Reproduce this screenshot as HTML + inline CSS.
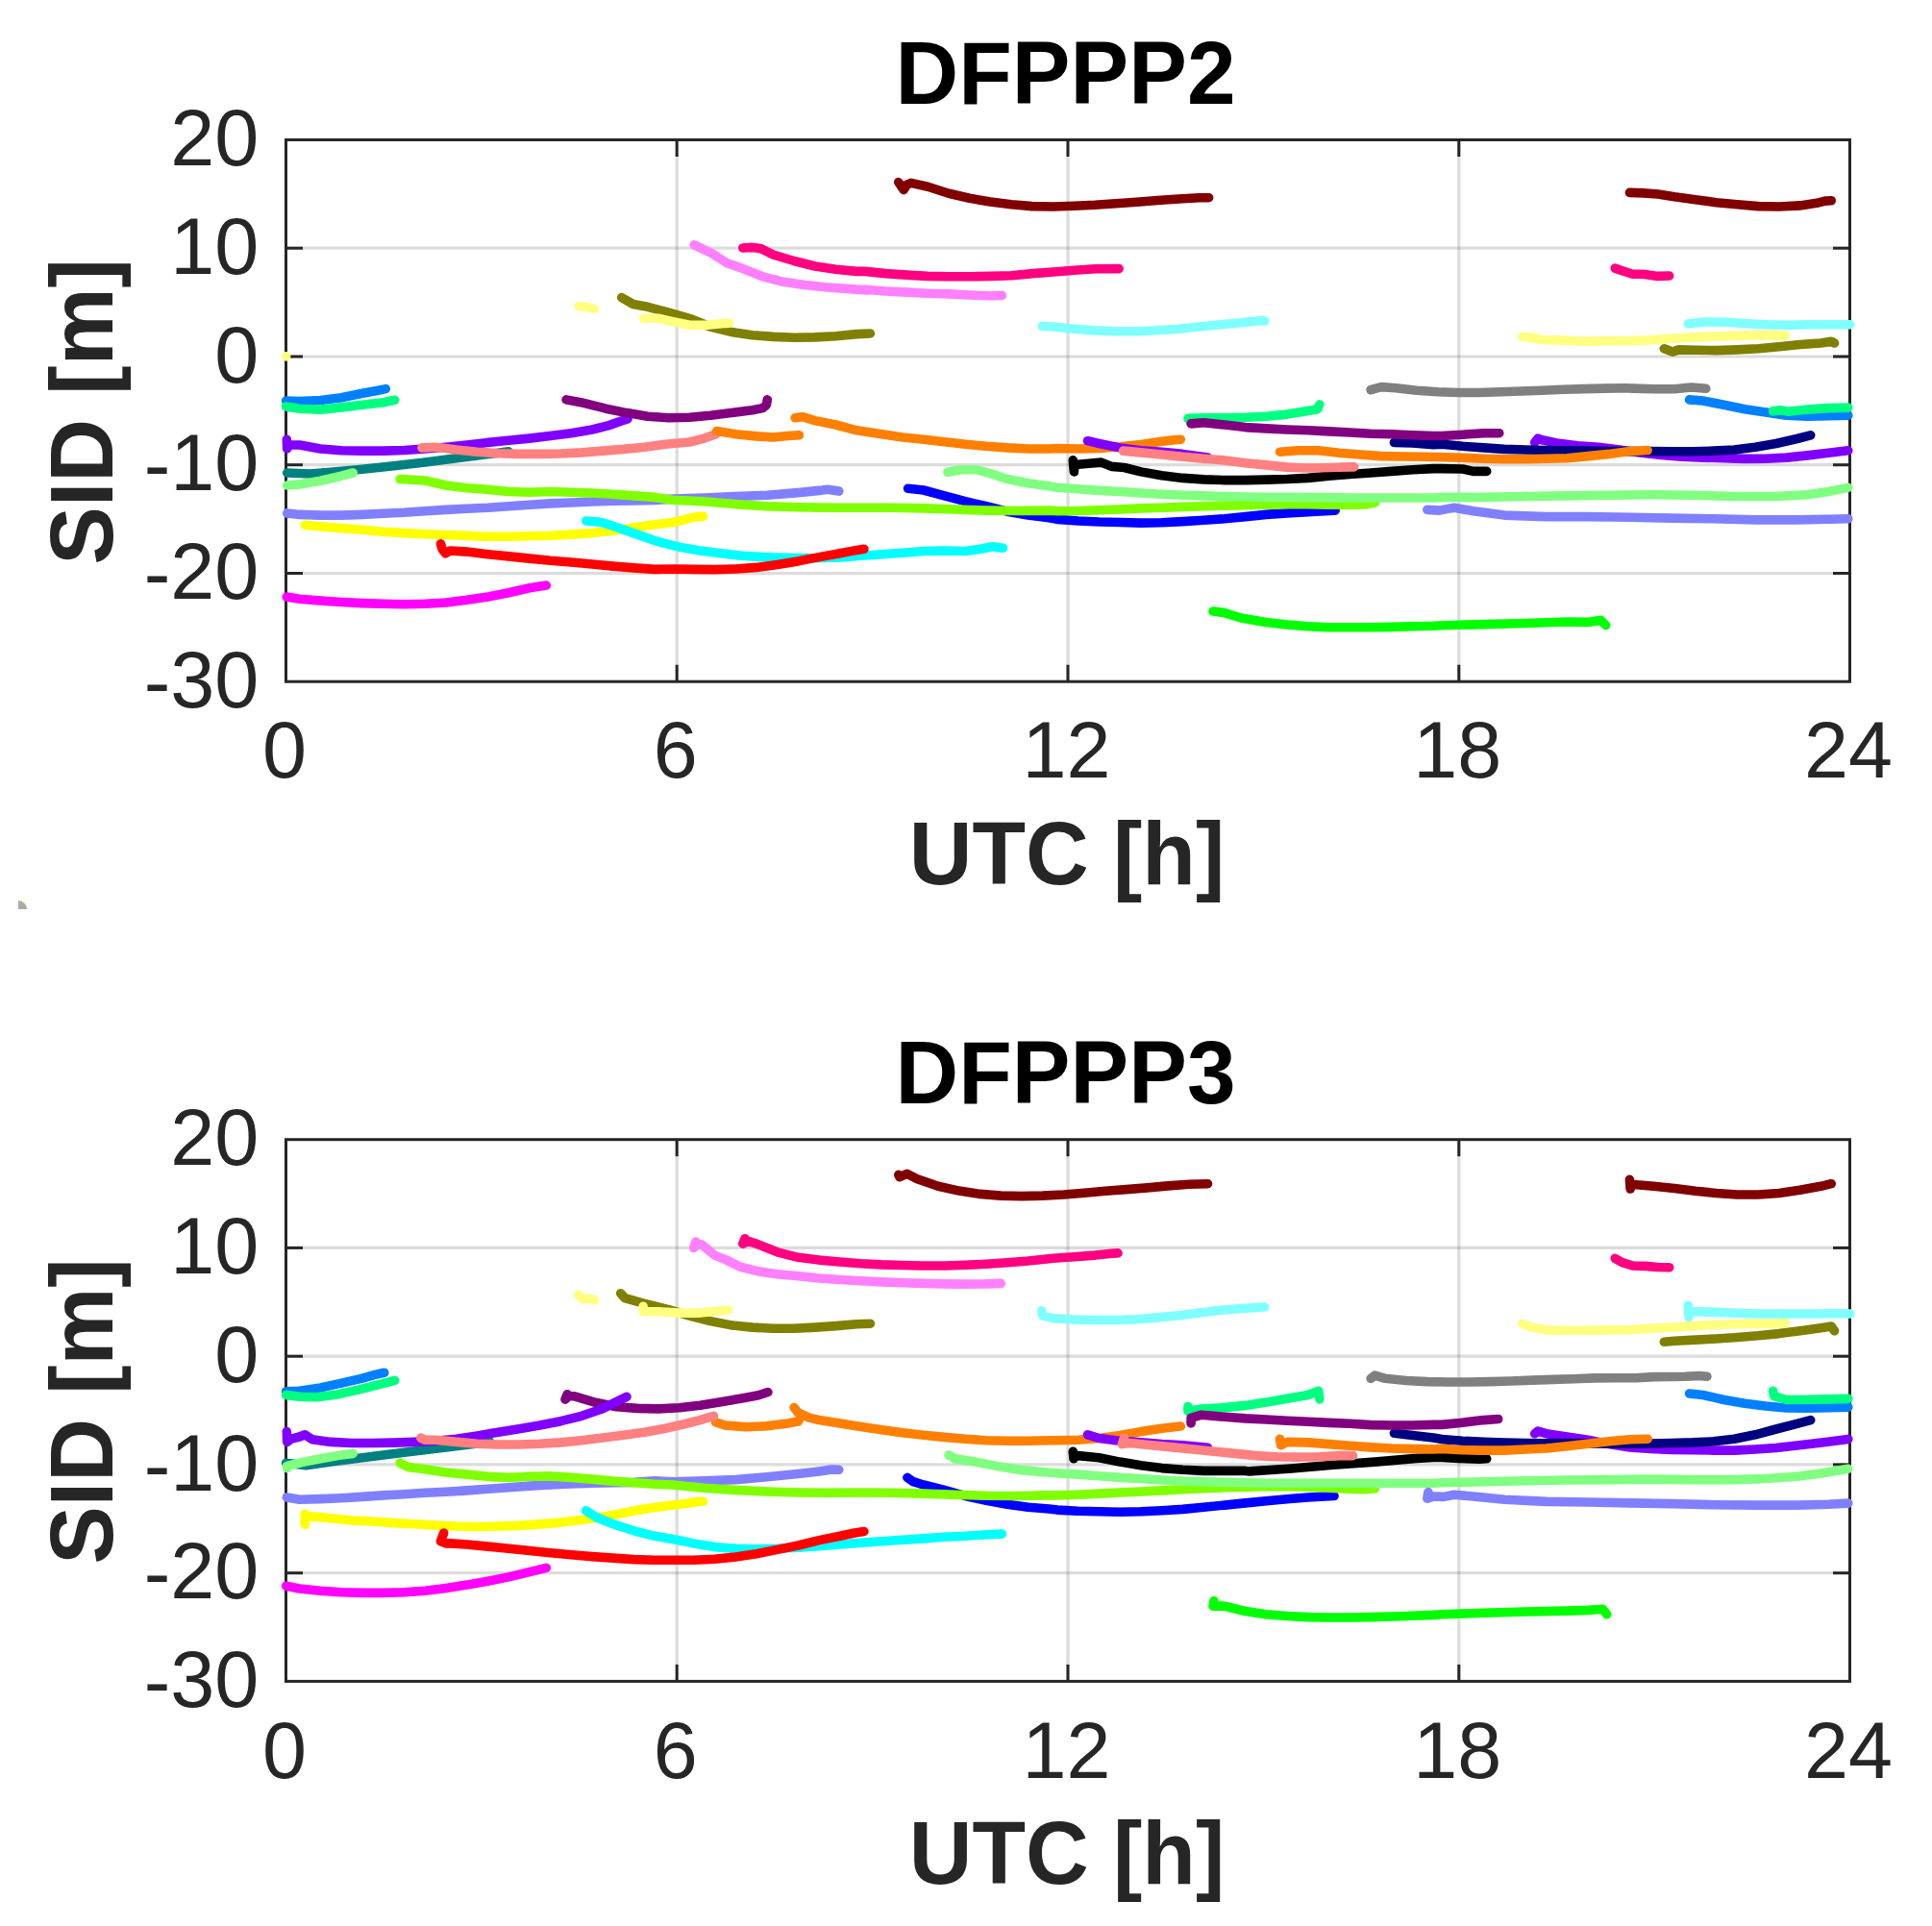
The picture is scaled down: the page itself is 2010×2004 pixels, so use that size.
<!DOCTYPE html>
<html><head><meta charset="utf-8"><title>DFPPP SID</title>
<style>html,body{margin:0;padding:0;background:#fff}svg{display:block}</style></head>
<body><svg width="2010" height="2004" viewBox="0 0 2010 2004">
<rect width="2010" height="2004" fill="#fff"/>
<path d="M19 946 L19 933 A13 13 0 0 1 32 946 Z" fill="#fffff0"/>
<path d="M19 946 L19 937 A9 9 0 0 1 28 946 Z" fill="#aaaaaa"/>
<g stroke="#262626" stroke-opacity="0.16" stroke-width="3.2">
<line x1="704.2" y1="145.5" x2="704.2" y2="709.2"/>
<line x1="1111.0" y1="145.5" x2="1111.0" y2="709.2"/>
<line x1="1517.8" y1="145.5" x2="1517.8" y2="709.2"/>
<line x1="297.5" y1="258.2" x2="1924.5" y2="258.2"/>
<line x1="297.5" y1="371.0" x2="1924.5" y2="371.0"/>
<line x1="297.5" y1="483.7" x2="1924.5" y2="483.7"/>
<line x1="297.5" y1="596.5" x2="1924.5" y2="596.5"/>
</g>
<g stroke="#262626" stroke-width="3" fill="none">
<rect x="297.5" y="145.5" width="1627.0" height="563.7"/>
<line x1="704.2" y1="145.5" x2="704.2" y2="163.0"/>
<line x1="704.2" y1="709.2" x2="704.2" y2="691.7"/>
<line x1="1111.0" y1="145.5" x2="1111.0" y2="163.0"/>
<line x1="1111.0" y1="709.2" x2="1111.0" y2="691.7"/>
<line x1="1517.8" y1="145.5" x2="1517.8" y2="163.0"/>
<line x1="1517.8" y1="709.2" x2="1517.8" y2="691.7"/>
<line x1="297.5" y1="258.2" x2="315.0" y2="258.2"/>
<line x1="1924.5" y1="258.2" x2="1907.0" y2="258.2"/>
<line x1="297.5" y1="371.0" x2="315.0" y2="371.0"/>
<line x1="1924.5" y1="371.0" x2="1907.0" y2="371.0"/>
<line x1="297.5" y1="483.7" x2="315.0" y2="483.7"/>
<line x1="1924.5" y1="483.7" x2="1907.0" y2="483.7"/>
<line x1="297.5" y1="596.5" x2="315.0" y2="596.5"/>
<line x1="1924.5" y1="596.5" x2="1907.0" y2="596.5"/>
</g>
<g fill="none" stroke-width="9.6" stroke-linecap="round" stroke-linejoin="round">
<path d="M298.7 492.0 L322.6 493.0 L344.3 491.3 L377.0 488.3 L409.6 484.8 L442.2 481.1 L474.8 476.7 L496.5 473.9 L518.3 471.3 L529.1 469.8" stroke="#008080"/>
<path d="M298.7 533.9 L311.7 535.4 L333.5 536.1 L355.2 536.1 L377.0 535.4 L398.7 534.3 L420.4 533.3 L442.2 531.7 L463.9 530.4 L485.7 529.3 L507.4 528.3 L529.1 526.7 L550.9 525.2 L572.6 523.9 L594.3 523.0 L616.1 522.0 L637.8 521.3 L659.6 520.9 L681.3 520.4 L700.0 519.1 L732.6 518.0 L765.2 516.5 L797.8 515.2 L830.4 512.6 L852.2 510.4 L860.9 509.3 L872.8 511.1" stroke="#8080ff"/>
<path d="M1484.8 530.4 L1497.8 531.1 L1508.7 528.9 L1513.0 528.3 L1532.6 531.7 L1565.2 536.1 L1608.7 537.6 L1652.2 537.6 L1695.7 538.3 L1739.1 539.1 L1782.6 539.8 L1826.1 540.9 L1869.6 540.9 L1902.2 540.2 L1922.8 539.8" stroke="#8080ff"/>
<path d="M944.6 508.3 L960.9 510.0 L982.6 515.9 L1004.3 521.7 L1026.1 526.7 L1047.8 532.2 L1069.6 536.1 L1091.3 538.7 L1100.0 540.4 L1121.7 542.0 L1143.5 543.0 L1165.2 543.5 L1187.0 544.1 L1208.7 543.7 L1230.4 542.6 L1252.2 541.3 L1273.9 539.8 L1295.7 537.6 L1317.4 535.4 L1339.1 533.9 L1360.9 532.6 L1378.3 531.7 L1389.1 531.1" stroke="#0000ff"/>
<path d="M416.1 498.5 L442.2 500.0 L463.9 505.0 L485.7 507.8 L507.4 509.3 L529.1 511.5 L550.9 512.2 L572.6 511.5 L594.3 512.2 L616.1 513.0 L637.8 514.3 L659.6 515.9 L681.3 517.4 L700.0 520.2 L732.6 521.7 L765.2 524.6 L797.8 526.7 L830.4 527.8 L863.0 528.3 L895.7 528.3 L928.3 528.3 L960.9 528.9 L993.5 530.0 L1026.1 531.1 L1058.7 531.5 L1091.3 531.1 L1100.0 531.7 L1121.7 531.5 L1143.5 530.7 L1165.2 530.0 L1187.0 528.9 L1208.7 528.3 L1230.4 527.4 L1252.2 526.7 L1273.9 526.1 L1295.7 525.7 L1317.4 525.2 L1339.1 524.8 L1360.9 524.8 L1382.6 525.2 L1404.3 525.2 L1419.6 525.0 L1430.4 523.0" stroke="#80ff00"/>
<path d="M298.7 505.0 L311.7 503.9 L333.5 500.2 L355.2 495.2 L367.2 492.0" stroke="#80ff80"/>
<path d="M985.9 491.3 L1000.0 488.7 L1015.2 488.7 L1030.4 492.6 L1047.8 498.5 L1069.6 502.8 L1091.3 505.7 L1100.0 507.2 L1121.7 508.7 L1143.5 510.4 L1165.2 511.5 L1187.0 513.0 L1208.7 514.3 L1230.4 515.2 L1252.2 515.9 L1273.9 516.5 L1295.7 517.0 L1317.4 517.4 L1339.1 517.4 L1360.9 517.6 L1382.6 517.6 L1404.3 518.0 L1426.1 518.0 L1447.8 518.0 L1469.6 518.0 L1491.3 518.0 L1500.0 517.4 L1543.5 517.4 L1587.0 516.5 L1630.4 515.9 L1673.9 515.2 L1717.4 514.8 L1760.9 515.2 L1804.3 516.5 L1847.8 516.5 L1880.4 514.8 L1902.2 511.5 L1922.8 507.4" stroke="#80ff80"/>
<path d="M317.2 546.3 L333.5 547.8 L355.2 549.6 L377.0 551.3 L398.7 553.3 L420.4 554.6 L442.2 555.7 L463.9 556.5 L485.7 557.4 L507.4 558.3 L529.1 558.3 L550.9 557.8 L572.6 557.2 L594.3 556.1 L616.1 554.6 L637.8 552.2 L659.6 549.1 L681.3 545.7 L700.0 543.5 L713.0 540.4 L723.9 537.6 L731.5 537.4" stroke="#ffff00"/>
<path d="M609.8 542.0 L626.1 543.5 L641.3 548.5 L663.0 556.1 L684.8 563.7 L706.5 569.1 L728.3 573.0 L750.0 575.7 L771.7 578.3 L793.5 579.6 L815.2 580.2 L847.8 580.7 L873.9 580.0 L895.7 578.3 L917.4 576.7 L939.1 575.2 L960.9 573.5 L982.6 573.0 L1004.3 573.5 L1019.6 571.3 L1032.6 568.7 L1043.5 570.2" stroke="#00ffff"/>
<path d="M458.5 565.9 L460.0 571.3 L463.5 575.7 L468.3 573.0 L485.7 574.1 L507.4 576.7 L529.1 578.9 L550.9 581.1 L572.6 583.3 L594.3 585.0 L616.1 587.0 L637.8 589.1 L659.6 590.9 L681.3 592.4 L700.0 592.0 L721.7 592.4 L743.5 592.6 L765.2 592.0 L787.0 590.4 L808.7 587.6 L830.4 583.9 L852.2 579.6 L873.9 575.7 L891.3 572.4 L898.9 571.3" stroke="#ff0000"/>
<path d="M298.3 621.1 L311.7 623.3 L333.5 625.0 L355.2 626.5 L377.0 627.6 L398.7 628.3 L420.4 628.7 L442.2 628.3 L463.9 627.0 L485.7 624.3 L507.4 621.1 L529.1 616.7 L550.9 611.7 L568.3 609.1" stroke="#ff00ff"/>
<path d="M297.6 417.0 L311.7 417.6 L333.5 416.5 L355.2 413.7 L377.0 409.3 L392.2 406.5 L401.3 404.6" stroke="#0080ff"/>
<path d="M297.6 423.0 L311.7 425.2 L333.5 426.1 L355.2 423.9 L377.0 421.3 L398.7 418.7 L410.7 416.3" stroke="#00ff80"/>
<path d="M827.2 434.8 L834.8 433.7 L847.8 437.6 L869.6 442.0 L891.3 447.8 L917.4 451.7 L939.1 455.0 L960.9 457.2 L982.6 459.8 L1004.3 462.2 L1026.1 464.3 L1047.8 465.9 L1069.6 467.0 L1091.3 467.0 L1100.0 466.5 L1121.7 467.0 L1143.5 466.5 L1165.2 464.8 L1187.0 462.6 L1208.7 459.3 L1221.7 457.8 L1228.3 457.2" stroke="#ff8000"/>
<path d="M298.3 457.2 L298.7 467.0 L300.9 463.0 L311.7 463.0 L333.5 467.0 L355.2 468.7 L377.0 469.1 L398.7 469.1 L420.4 468.5 L442.2 467.0 L463.9 465.2 L485.7 463.0 L507.4 460.4 L529.1 458.3 L550.9 456.1 L572.6 453.5 L594.3 450.7 L616.1 447.0 L633.5 442.6 L646.5 438.0 L653.0 435.9" stroke="#8000ff"/>
<path d="M589.1 415.9 L604.3 418.7 L630.4 425.2 L652.2 429.6 L673.9 433.3 L695.7 434.8 L717.4 434.3 L739.1 432.2 L760.9 429.6 L782.6 426.7 L793.5 424.6 L797.4 421.3 L798.3 415.9" stroke="#800080"/>
<path d="M438.9 465.9 L453.0 465.2 L474.8 468.0 L496.5 470.2 L518.3 471.7 L540.0 472.4 L561.7 472.4 L583.5 472.0 L605.2 470.9 L627.0 469.1 L648.7 467.4 L670.4 465.2 L692.2 462.2 L700.0 461.5 L717.4 460.0 L732.6 456.1 L744.6 451.7" stroke="#ff8080"/>
<path d="M745.7 448.5 L765.2 451.7 L787.0 453.9 L804.3 455.0 L819.6 453.5 L831.5 452.8" stroke="#ff8000"/>
<path d="M1131.5 458.7 L1143.5 461.5 L1165.2 465.9 L1187.0 468.7 L1208.7 470.2 L1230.4 472.4 L1256.5 476.1" stroke="#8000ff"/>
<path d="M1116.3 478.9 L1117.4 490.9 L1117.8 484.3 L1121.7 483.3 L1132.6 482.2 L1145.7 481.1 L1156.5 485.4 L1169.6 486.5 L1187.0 490.9 L1208.7 494.8 L1230.4 497.4 L1252.2 498.9 L1273.9 499.6 L1295.7 499.6 L1317.4 499.1 L1339.1 498.5 L1360.9 497.4 L1382.6 495.2 L1404.3 493.5 L1426.1 492.0 L1447.8 490.4 L1469.6 488.7 L1491.3 487.6 L1500.0 487.6 L1521.7 488.0 L1532.6 490.4 L1546.7 490.4" stroke="#000000"/>
<path d="M1168.5 469.1 L1187.0 470.9 L1208.7 473.0 L1230.4 475.2 L1252.2 477.2 L1273.9 478.9 L1295.7 481.7 L1317.4 483.9 L1339.1 486.1 L1360.9 487.0 L1382.6 486.5 L1404.3 485.9 L1408.7 485.9" stroke="#ff8080"/>
<path d="M1235.9 435.4 L1252.2 434.8 L1273.9 434.8 L1295.7 434.3 L1317.4 433.3 L1339.1 431.1 L1360.9 427.4 L1370.7 425.7 L1372.8 420.9" stroke="#00ff80"/>
<path d="M1596.7 460.4 L1600.0 456.1 L1604.3 457.8 L1619.6 460.9 L1641.3 463.7 L1663.0 465.2 L1684.8 468.0 L1706.5 470.9 L1728.3 473.5 L1750.0 475.2 L1771.7 476.1 L1793.5 476.7 L1815.2 477.4 L1837.0 477.2 L1858.7 476.1 L1880.4 473.9 L1902.2 471.3 L1922.8 468.7" stroke="#8000ff"/>
<path d="M1450.4 460.4 L1469.6 460.9 L1491.3 462.6 L1500.0 462.2 L1521.7 464.3 L1543.5 465.9 L1565.2 467.4 L1587.0 468.0 L1608.7 468.5 L1630.4 468.7 L1652.2 469.1 L1673.9 469.6 L1695.7 469.6 L1717.4 469.6 L1739.1 469.8 L1760.9 469.8 L1782.6 469.1 L1804.3 468.0 L1826.1 465.2 L1847.8 461.5 L1869.6 456.5 L1883.7 452.8" stroke="#000080"/>
<path d="M1239.1 440.9 L1252.2 439.8 L1273.9 442.0 L1295.7 444.6 L1317.4 445.9 L1339.1 447.0 L1360.9 447.8 L1382.6 448.9 L1404.3 450.0 L1426.1 451.3 L1447.8 451.7 L1469.6 452.8 L1491.3 453.5 L1500.0 453.5 L1521.7 452.2 L1543.5 450.7 L1559.8 450.7" stroke="#800080"/>
<path d="M1331.5 470.2 L1350.0 468.7 L1371.7 468.7 L1393.5 471.3 L1415.2 473.0 L1437.0 474.6 L1458.7 475.0 L1480.4 475.2 L1502.2 475.7 L1521.7 476.3 L1543.5 477.2 L1565.2 477.8 L1587.0 477.8 L1608.7 477.2 L1630.4 476.7 L1652.2 474.6 L1673.9 472.4 L1695.7 469.6 L1714.1 468.5" stroke="#ff8000"/>
<path d="M1262.0 636.1 L1273.9 637.6 L1291.3 643.0 L1317.4 647.4 L1339.1 650.0 L1360.9 651.7 L1382.6 652.8 L1404.3 652.8 L1426.1 652.8 L1447.8 652.4 L1469.6 651.7 L1491.3 651.3 L1500.0 650.7 L1543.5 649.6 L1587.0 648.5 L1630.4 647.0 L1652.2 647.4 L1665.2 645.2 L1670.7 650.7" stroke="#00ff00"/>
<path d="M1426.1 405.7 L1437.0 402.6 L1452.2 403.7 L1473.9 406.3 L1495.7 407.8 L1517.4 408.5 L1539.1 408.5 L1560.9 407.8 L1582.6 407.0 L1604.3 406.3 L1626.1 405.2 L1647.8 404.6 L1669.6 404.1 L1691.3 403.7 L1698.7 404.1 L1720.4 404.8 L1742.2 404.8 L1759.6 403.0 L1774.8 404.3" stroke="#808080"/>
<path d="M1757.6 415.9 L1771.7 417.0 L1793.5 421.3 L1815.2 425.7 L1837.0 428.9 L1858.7 432.2 L1880.4 433.3 L1902.2 432.8 L1922.8 432.2" stroke="#0080ff"/>
<path d="M1844.6 427.8 L1852.2 426.7 L1860.9 428.3 L1880.4 426.1 L1902.2 424.6 L1922.8 424.1" stroke="#00ff80"/>
<path d="M934.8 189.6 L940.2 197.6 L943.5 192.2 L947.8 190.4 L965.2 194.3 L987.0 201.3 L1008.7 206.3 L1030.4 210.0 L1052.2 212.8 L1073.9 214.6 L1095.7 215.0 L1117.4 214.3 L1139.1 213.3 L1160.9 211.7 L1182.6 210.2 L1204.3 208.5 L1226.1 207.0 L1247.8 205.7 L1257.6 205.7" stroke="#800000"/>
<path d="M1695.4 200.4 L1709.6 200.9 L1724.8 202.0 L1742.2 204.8 L1763.9 207.8 L1785.7 210.7 L1807.4 212.8 L1829.1 214.6 L1850.9 215.0 L1872.6 213.9 L1890.0 211.3 L1898.7 209.1 L1905.2 208.7" stroke="#800000"/>
<path d="M772.8 258.0 L782.6 257.4 L791.3 258.5 L804.3 265.0 L826.1 271.5 L847.8 277.0 L869.6 280.2 L891.3 282.4 L900.0 282.4 L921.7 284.6 L943.5 286.1 L965.2 287.4 L987.0 287.8 L1008.7 287.8 L1030.4 287.4 L1052.2 286.7 L1073.9 284.6 L1095.7 283.0 L1117.4 281.3 L1139.1 279.8 L1160.9 279.6 L1164.1 279.6" stroke="#ff0080"/>
<path d="M1680.2 279.1 L1687.8 281.7 L1698.7 285.2 L1709.6 285.2 L1724.8 287.4 L1736.7 287.0" stroke="#ff0080"/>
<path d="M722.2 254.8 L739.1 262.8 L756.5 273.7 L771.7 279.1 L793.5 287.8 L815.2 293.3 L837.0 296.5 L858.7 298.7 L880.4 300.4 L902.2 302.0 L900.0 301.3 L921.7 303.0 L943.5 304.1 L965.2 305.2 L987.0 305.9 L1008.7 307.0 L1030.4 307.8 L1042.4 307.4" stroke="#ff80ff"/>
<path d="M646.7 309.6 L658.7 316.5 L673.9 319.3 L695.7 325.2 L717.4 331.3 L739.1 340.0 L760.9 345.4 L782.6 348.7 L804.3 350.4 L826.1 351.3 L847.8 350.9 L869.6 349.8 L891.3 347.6 L905.4 347.0" stroke="#808000"/>
<path d="M1731.3 362.8 L1740.0 366.1 L1746.5 363.9 L1763.9 364.3 L1785.7 364.6 L1807.4 363.9 L1829.1 362.8 L1850.9 360.7 L1872.6 358.5 L1894.3 357.0 L1905.2 355.2 L1908.5 357.0" stroke="#808000"/>
<path d="M297.5 370.9 L297.6 370.9" stroke="#ffff80"/>
<path d="M602.2 318.7 L610.9 319.3 L618.5 321.5" stroke="#ffff80"/>
<path d="M669.6 331.3 L684.8 331.3 L700.0 334.6 L717.4 338.3 L734.8 338.3 L750.0 336.7 L758.7 336.1" stroke="#ffff80"/>
<path d="M1583.7 350.2 L1593.5 351.3 L1604.3 353.5 L1626.1 354.1 L1647.8 355.2 L1669.6 354.8 L1691.3 354.8 L1709.6 354.1 L1742.2 352.0 L1774.8 350.4 L1807.4 349.1 L1840.0 348.7 L1857.4 349.1" stroke="#ffff80"/>
<path d="M1084.3 339.3 L1095.7 340.0 L1117.4 342.2 L1139.1 343.9 L1160.9 344.8 L1182.6 344.8 L1204.3 343.7 L1226.1 342.2 L1247.8 340.0 L1269.6 337.8 L1291.3 335.7 L1313.0 333.5 L1315.7 333.9" stroke="#80ffff"/>
<path d="M1756.3 336.7 L1774.8 335.0 L1796.5 335.2 L1818.3 336.7 L1840.0 337.8 L1861.7 338.3 L1883.5 337.8 L1905.2 337.8 L1924.8 337.8" stroke="#80ffff"/>
</g>
<g font-family="Liberation Sans, Arial, sans-serif" font-size="82.7" fill="#262626">
<text transform="translate(269.2,172.2) scale(1,1.01)" text-anchor="end">20</text>
<text transform="translate(269.2,284.9) scale(1,1.01)" text-anchor="end">10</text>
<text transform="translate(269.2,397.7) scale(1,1.01)" text-anchor="end">0</text>
<text transform="translate(269.2,510.4) scale(1,1.01)" text-anchor="end"><tspan dy="2">-</tspan><tspan dy="-2">10</tspan></text>
<text transform="translate(269.2,623.2) scale(1,1.01)" text-anchor="end"><tspan dy="2">-</tspan><tspan dy="-2">20</tspan></text>
<text transform="translate(269.2,735.9) scale(1,1.01)" text-anchor="end"><tspan dy="2">-</tspan><tspan dy="-2">30</tspan></text>
<text transform="translate(296.0,809.4) scale(1,1.01)" text-anchor="middle">0</text>
<text transform="translate(702.8,809.4) scale(1,1.01)" text-anchor="middle">6</text>
<text transform="translate(1109.5,809.4) scale(1,1.01)" text-anchor="middle">12</text>
<text transform="translate(1516.2,809.4) scale(1,1.01)" text-anchor="middle">18</text>
<text transform="translate(1923.0,809.4) scale(1,1.01)" text-anchor="middle">24</text>
</g>
<g font-family="Liberation Sans, Arial, sans-serif" font-weight="bold" font-size="91" text-anchor="middle">
<text transform="translate(1108.5,108.0) scale(1,1.023)" fill="#000">DFPPP2</text>
<text transform="translate(1110,920.2) scale(1,1.023)" fill="#262626">UTC [h]</text>
<text transform="translate(117,428.4) rotate(-90) scale(1,1.023)" fill="#262626">SID [m]</text>
</g>
<g stroke="#262626" stroke-opacity="0.16" stroke-width="3.2">
<line x1="704.2" y1="1185.7" x2="704.2" y2="1749.4"/>
<line x1="1111.0" y1="1185.7" x2="1111.0" y2="1749.4"/>
<line x1="1517.8" y1="1185.7" x2="1517.8" y2="1749.4"/>
<line x1="297.5" y1="1298.4" x2="1924.5" y2="1298.4"/>
<line x1="297.5" y1="1411.2" x2="1924.5" y2="1411.2"/>
<line x1="297.5" y1="1523.9" x2="1924.5" y2="1523.9"/>
<line x1="297.5" y1="1636.7" x2="1924.5" y2="1636.7"/>
</g>
<g stroke="#262626" stroke-width="3" fill="none">
<rect x="297.5" y="1185.7" width="1627.0" height="563.7"/>
<line x1="704.2" y1="1185.7" x2="704.2" y2="1203.2"/>
<line x1="704.2" y1="1749.4" x2="704.2" y2="1731.9"/>
<line x1="1111.0" y1="1185.7" x2="1111.0" y2="1203.2"/>
<line x1="1111.0" y1="1749.4" x2="1111.0" y2="1731.9"/>
<line x1="1517.8" y1="1185.7" x2="1517.8" y2="1203.2"/>
<line x1="1517.8" y1="1749.4" x2="1517.8" y2="1731.9"/>
<line x1="297.5" y1="1298.4" x2="315.0" y2="1298.4"/>
<line x1="1924.5" y1="1298.4" x2="1907.0" y2="1298.4"/>
<line x1="297.5" y1="1411.2" x2="315.0" y2="1411.2"/>
<line x1="1924.5" y1="1411.2" x2="1907.0" y2="1411.2"/>
<line x1="297.5" y1="1523.9" x2="315.0" y2="1523.9"/>
<line x1="1924.5" y1="1523.9" x2="1907.0" y2="1523.9"/>
<line x1="297.5" y1="1636.7" x2="315.0" y2="1636.7"/>
<line x1="1924.5" y1="1636.7" x2="1907.0" y2="1636.7"/>
</g>
<g fill="none" stroke-width="9.6" stroke-linecap="round" stroke-linejoin="round">
<path d="M297.6 1522.2 L318.3 1524.8 L344.3 1521.1 L377.0 1516.7 L420.4 1511.3 L463.9 1505.9 L496.5 1502.0 L509.6 1500.0" stroke="#008080"/>
<path d="M298.3 1558.0 L311.7 1560.2 L333.5 1559.6 L355.2 1558.7 L377.0 1557.4 L398.7 1555.9 L420.4 1554.8 L442.2 1553.3 L463.9 1552.2 L485.7 1550.9 L507.4 1549.3 L529.1 1547.8 L550.9 1546.1 L572.6 1545.0 L594.3 1543.9 L616.1 1543.3 L637.8 1542.8 L659.6 1542.4 L681.3 1540.7 L700.0 1541.7 L732.6 1540.7 L765.2 1539.6 L797.8 1536.7 L830.4 1533.5 L852.2 1530.9 L865.2 1529.1 L872.8 1529.3" stroke="#8080ff"/>
<path d="M1485.9 1552.6 L1484.8 1559.1 L1491.3 1557.0 L1502.2 1557.4 L1513.0 1555.2 L1532.6 1557.0 L1565.2 1560.2 L1608.7 1562.4 L1652.2 1563.0 L1695.7 1563.9 L1739.1 1564.6 L1782.6 1565.7 L1826.1 1566.1 L1869.6 1566.1 L1902.2 1565.2 L1922.8 1564.1" stroke="#8080ff"/>
<path d="M943.9 1537.4 L950.0 1541.7 L960.9 1545.0 L982.6 1550.4 L1004.3 1556.5 L1026.1 1561.3 L1047.8 1565.2 L1069.6 1568.3 L1091.3 1570.0 L1100.0 1571.1 L1121.7 1572.2 L1143.5 1572.8 L1165.2 1573.3 L1187.0 1572.8 L1208.7 1571.7 L1230.4 1570.4 L1252.2 1568.3 L1273.9 1566.1 L1295.7 1563.9 L1317.4 1561.7 L1339.1 1559.8 L1360.9 1558.0 L1378.3 1557.0 L1388.0 1556.5" stroke="#0000ff"/>
<path d="M416.1 1522.2 L424.8 1526.5 L442.2 1528.7 L463.9 1532.0 L485.7 1534.1 L507.4 1536.3 L529.1 1537.4 L550.9 1536.3 L572.6 1535.9 L594.3 1537.4 L616.1 1539.1 L637.8 1541.1 L659.6 1542.8 L681.3 1544.3 L700.0 1545.0 L732.6 1548.3 L765.2 1550.4 L797.8 1552.0 L830.4 1553.0 L863.0 1553.3 L895.7 1553.0 L928.3 1553.3 L960.9 1554.1 L993.5 1555.2 L1026.1 1556.3 L1058.7 1556.5 L1091.3 1555.9 L1100.0 1555.9 L1121.7 1555.2 L1143.5 1554.1 L1165.2 1553.0 L1187.0 1552.0 L1208.7 1550.9 L1230.4 1549.8 L1252.2 1548.7 L1273.9 1547.8 L1295.7 1547.2 L1317.4 1546.7 L1339.1 1546.5 L1360.9 1547.2 L1382.6 1548.3 L1404.3 1549.3 L1419.6 1549.8 L1430.4 1548.7" stroke="#80ff00"/>
<path d="M298.7 1527.6 L298.7 1525.4 L316.1 1521.1 L333.5 1517.8 L355.2 1513.9 L367.2 1512.4" stroke="#80ff80"/>
<path d="M987.0 1513.9 L993.5 1517.8 L1015.2 1521.1 L1037.0 1525.4 L1058.7 1529.1 L1080.4 1531.3 L1102.2 1533.0 L1121.7 1534.1 L1143.5 1535.7 L1165.2 1537.4 L1187.0 1538.5 L1208.7 1540.0 L1230.4 1541.1 L1252.2 1541.7 L1273.9 1542.4 L1295.7 1542.8 L1317.4 1543.3 L1339.1 1543.3 L1360.9 1543.3 L1382.6 1543.3 L1404.3 1543.3 L1426.1 1543.3 L1447.8 1543.3 L1469.6 1543.3 L1491.3 1543.3 L1500.0 1542.8 L1543.5 1541.7 L1587.0 1540.7 L1630.4 1540.0 L1673.9 1539.6 L1717.4 1539.1 L1760.9 1539.6 L1804.3 1539.6 L1837.0 1538.5 L1869.6 1536.3 L1891.3 1533.5 L1922.8 1528.3" stroke="#80ff80"/>
<path d="M317.2 1575.4 L317.2 1586.3 L317.8 1578.7 L322.6 1577.6 L344.3 1579.8 L366.1 1582.0 L387.8 1583.0 L409.6 1584.6 L431.3 1585.7 L453.0 1587.0 L474.8 1588.0 L496.5 1588.5 L518.3 1588.0 L540.0 1587.4 L561.7 1585.9 L583.5 1584.1 L605.2 1581.5 L627.0 1578.3 L648.7 1574.3 L670.4 1570.0 L692.2 1567.0 L713.0 1564.6 L723.9 1562.8 L731.5 1562.2" stroke="#ffff00"/>
<path d="M609.6 1571.7 L620.4 1578.7 L637.8 1585.7 L659.6 1592.8 L681.3 1598.3 L700.0 1601.5 L721.7 1605.9 L743.5 1609.6 L765.2 1611.3 L787.0 1611.7 L808.7 1611.3 L830.4 1610.2 L852.2 1608.7 L873.9 1607.0 L895.7 1605.2 L917.4 1603.7 L939.1 1602.2 L960.9 1600.9 L982.6 1599.3 L1004.3 1598.3 L1026.1 1596.7 L1042.4 1596.1" stroke="#00ffff"/>
<path d="M461.7 1595.0 L458.5 1603.7 L463.9 1605.9 L468.3 1605.9 L485.7 1607.0 L507.4 1609.1 L529.1 1611.3 L550.9 1613.5 L572.6 1615.7 L594.3 1617.8 L616.1 1619.6 L637.8 1621.1 L659.6 1622.6 L681.3 1623.3 L700.0 1623.3 L721.7 1623.3 L743.5 1622.2 L765.2 1620.0 L787.0 1616.7 L808.7 1612.4 L830.4 1608.0 L852.2 1602.6 L873.9 1598.3 L889.1 1595.0 L898.9 1593.5" stroke="#ff0000"/>
<path d="M297.6 1650.2 L311.7 1653.0 L333.5 1655.2 L355.2 1656.7 L377.0 1657.4 L398.7 1657.4 L420.4 1656.7 L442.2 1655.2 L463.9 1652.4 L485.7 1649.1 L507.4 1645.2 L529.1 1640.9 L550.9 1635.7 L568.3 1631.3" stroke="#ff00ff"/>
<path d="M297.6 1447.8 L311.7 1447.2 L333.5 1443.9 L355.2 1439.1 L377.0 1434.1 L390.0 1430.4 L399.8 1428.3" stroke="#0080ff"/>
<path d="M297.6 1451.5 L311.7 1453.3 L329.1 1453.7 L350.9 1450.9 L372.6 1446.1 L392.2 1441.1 L410.7 1436.3" stroke="#00ff80"/>
<path d="M744.6 1479.8 L754.3 1483.0 L776.1 1484.8 L797.8 1483.7 L819.6 1480.9 L830.4 1479.1 L831.5 1477.0" stroke="#ff8000"/>
<path d="M826.1 1464.6 L830.4 1470.0 L841.3 1474.8 L852.2 1477.6 L873.9 1480.9 L895.7 1484.6 L917.4 1487.8 L939.1 1490.7 L960.9 1493.3 L982.6 1495.4 L1004.3 1497.2 L1026.1 1498.7 L1047.8 1499.3 L1069.6 1499.3 L1091.3 1498.7 L1100.0 1498.7 L1121.7 1498.3 L1143.5 1496.5 L1165.2 1493.5 L1187.0 1489.6 L1208.7 1486.3 L1228.3 1484.1" stroke="#ff8000"/>
<path d="M590.2 1450.7 L588.0 1456.1 L591.3 1452.8 L597.8 1452.8 L619.6 1459.3 L641.3 1463.7 L663.0 1465.4 L684.8 1465.9 L706.5 1464.8 L728.3 1462.2 L750.0 1458.7 L771.7 1455.0 L789.1 1451.7 L798.9 1448.5" stroke="#800080"/>
<path d="M298.3 1489.6 L298.7 1500.4 L303.0 1497.2 L311.7 1495.0 L317.2 1492.8 L324.8 1497.8 L344.3 1500.4 L366.1 1501.5 L387.8 1501.5 L409.6 1501.1 L431.3 1500.4 L453.0 1499.3 L474.8 1497.2 L496.5 1493.9 L518.3 1490.2 L540.0 1486.7 L561.7 1483.0 L583.5 1478.7 L605.2 1473.3 L627.0 1465.7 L642.2 1458.0 L652.0 1453.3" stroke="#8000ff"/>
<path d="M437.8 1496.1 L442.2 1498.3 L453.0 1498.3 L474.8 1500.4 L496.5 1502.2 L518.3 1503.0 L540.0 1503.0 L561.7 1502.2 L583.5 1500.9 L605.2 1498.7 L627.0 1496.1 L648.7 1493.3 L670.4 1490.2 L692.2 1486.3 L713.0 1481.5 L728.3 1477.6 L742.4 1473.3" stroke="#ff8080"/>
<path d="M1131.5 1492.8 L1143.5 1496.5 L1160.9 1498.7 L1187.0 1500.9 L1208.7 1502.6 L1230.4 1503.7 L1256.5 1506.3" stroke="#8000ff"/>
<path d="M1116.3 1510.2 L1117.0 1517.8 L1118.5 1513.5 L1121.7 1514.6 L1143.5 1516.7 L1165.2 1521.1 L1187.0 1524.8 L1208.7 1527.6 L1230.4 1529.3 L1252.2 1530.4 L1273.9 1530.4 L1295.7 1530.4 L1300.0 1530.9 L1343.5 1528.0 L1387.0 1524.3 L1430.4 1521.1 L1473.9 1517.4 L1495.7 1516.3 L1517.4 1517.4 L1539.1 1518.3 L1546.7 1517.8" stroke="#000000"/>
<path d="M1169.6 1496.1 L1167.4 1502.6 L1176.1 1501.5 L1197.8 1503.7 L1219.6 1505.9 L1241.3 1508.0 L1263.0 1510.2 L1284.8 1512.4 L1306.5 1514.6 L1328.3 1515.7 L1350.0 1516.1 L1371.7 1515.7 L1393.5 1514.6 L1407.6 1514.6" stroke="#ff8080"/>
<path d="M1235.9 1463.5 L1235.9 1468.3 L1252.2 1465.7 L1273.9 1464.6 L1295.7 1462.4 L1317.4 1459.1 L1339.1 1455.2 L1360.9 1451.5 L1371.7 1447.2 L1372.8 1455.9" stroke="#00ff80"/>
<path d="M1596.7 1491.7 L1600.0 1489.1 L1608.7 1491.7 L1630.4 1495.0 L1652.2 1498.3 L1673.9 1502.6 L1695.7 1505.9 L1717.4 1507.4 L1739.1 1508.5 L1760.9 1508.7 L1782.6 1509.1 L1804.3 1509.1 L1826.1 1508.0 L1847.8 1506.5 L1869.6 1504.1 L1891.3 1501.5 L1922.8 1497.4" stroke="#8000ff"/>
<path d="M1450.4 1491.3 L1469.6 1493.5 L1491.3 1496.1 L1500.0 1497.6 L1521.7 1499.3 L1543.5 1500.4 L1565.2 1501.1 L1587.0 1501.5 L1608.7 1501.7 L1630.4 1501.5 L1652.2 1502.0 L1673.9 1502.2 L1695.7 1502.2 L1717.4 1502.0 L1739.1 1501.5 L1760.9 1500.9 L1782.6 1499.8 L1804.3 1497.2 L1826.1 1492.8 L1847.8 1487.0 L1869.6 1481.3 L1883.7 1477.6" stroke="#000080"/>
<path d="M1239.1 1480.9 L1239.1 1475.4 L1250.0 1472.2 L1273.9 1474.3 L1295.7 1475.9 L1317.4 1477.0 L1339.1 1478.3 L1360.9 1479.3 L1382.6 1480.4 L1404.3 1481.3 L1426.1 1482.6 L1447.8 1483.0 L1469.6 1483.0 L1491.3 1482.4 L1500.0 1482.4 L1521.7 1480.2 L1543.5 1477.6 L1558.7 1476.5" stroke="#800080"/>
<path d="M1331.5 1497.2 L1332.6 1503.7 L1339.1 1500.4 L1360.9 1500.9 L1382.6 1502.6 L1404.3 1504.3 L1426.1 1505.9 L1447.8 1507.0 L1469.6 1507.6 L1491.3 1508.0 L1500.0 1507.4 L1521.7 1508.7 L1543.5 1509.1 L1565.2 1509.1 L1587.0 1508.0 L1608.7 1507.0 L1630.4 1504.8 L1652.2 1502.2 L1673.9 1499.8 L1695.7 1497.8 L1714.1 1497.2" stroke="#ff8000"/>
<path d="M1263.0 1665.7 L1262.0 1671.1 L1273.9 1671.1 L1295.7 1676.5 L1317.4 1679.8 L1339.1 1681.5 L1360.9 1682.6 L1382.6 1683.0 L1404.3 1683.0 L1426.1 1682.6 L1447.8 1682.0 L1469.6 1681.3 L1491.3 1680.4 L1500.0 1679.8 L1543.5 1678.3 L1587.0 1677.0 L1630.4 1676.1 L1652.2 1675.4 L1667.4 1674.3 L1671.7 1679.8" stroke="#00ff00"/>
<path d="M1426.1 1434.3 L1430.4 1431.1 L1441.3 1434.3 L1463.0 1436.5 L1484.8 1437.6 L1506.5 1438.0 L1528.3 1438.0 L1550.0 1437.6 L1571.7 1437.0 L1593.5 1436.1 L1615.2 1435.4 L1637.0 1434.8 L1658.7 1433.9 L1680.4 1433.7 L1702.2 1433.7 L1720.4 1432.6 L1753.0 1432.2 L1768.3 1431.5 L1775.9 1432.2" stroke="#808080"/>
<path d="M1757.6 1450.0 L1771.7 1451.5 L1793.5 1456.5 L1815.2 1460.2 L1837.0 1463.0 L1858.7 1465.0 L1880.4 1465.2 L1902.2 1464.6 L1922.8 1464.1" stroke="#0080ff"/>
<path d="M1844.6 1447.2 L1845.7 1452.6 L1858.7 1456.5 L1880.4 1456.3 L1902.2 1455.9 L1922.8 1455.4" stroke="#00ff80"/>
<path d="M934.8 1222.4 L935.9 1224.6 L943.5 1221.3 L954.3 1226.7 L976.1 1234.3 L997.8 1239.1 L1019.6 1242.4 L1041.3 1244.1 L1063.0 1244.6 L1084.8 1244.1 L1106.5 1243.0 L1128.3 1241.3 L1150.0 1239.3 L1171.7 1237.6 L1193.5 1235.9 L1215.2 1233.9 L1237.0 1232.2 L1256.5 1231.7" stroke="#800000"/>
<path d="M1695.4 1227.4 L1696.1 1237.0 L1697.6 1232.2 L1703.0 1232.8 L1720.4 1234.3 L1742.2 1236.5 L1763.9 1239.3 L1785.7 1241.5 L1807.4 1243.0 L1829.1 1243.0 L1850.9 1241.5 L1872.6 1238.3 L1894.3 1234.3 L1905.2 1231.7" stroke="#800000"/>
<path d="M775.0 1288.7 L772.8 1294.1 L778.3 1291.3 L787.0 1294.1 L808.7 1302.8 L830.4 1308.3 L852.2 1311.1 L873.9 1313.0 L895.7 1314.8 L917.4 1315.9 L939.1 1316.5 L960.9 1317.0 L982.6 1317.0 L1004.3 1316.3 L1026.1 1315.2 L1047.8 1313.7 L1069.6 1312.0 L1091.3 1309.8 L1095.7 1309.3 L1117.4 1307.8 L1139.1 1306.1 L1156.5 1304.3 L1163.0 1303.9" stroke="#ff0080"/>
<path d="M1680.2 1309.3 L1687.8 1313.7 L1698.7 1317.0 L1711.7 1317.4 L1724.8 1318.5 L1736.7 1318.7" stroke="#ff0080"/>
<path d="M723.9 1292.0 L721.7 1298.5 L726.1 1294.1 L730.4 1295.2 L743.5 1306.1 L754.3 1310.4 L769.6 1318.0 L787.0 1322.4 L808.7 1325.7 L830.4 1327.8 L852.2 1330.0 L873.9 1331.5 L895.7 1332.8 L917.4 1333.9 L939.1 1334.8 L960.9 1335.4 L982.6 1335.9 L1004.3 1336.1 L1026.1 1335.9 L1041.3 1335.4" stroke="#ff80ff"/>
<path d="M645.7 1345.7 L650.0 1350.7 L669.6 1356.1 L695.7 1362.6 L717.4 1369.1 L739.1 1374.6 L760.9 1378.9 L782.6 1381.1 L804.3 1382.2 L826.1 1382.2 L847.8 1381.1 L869.6 1379.6 L891.3 1377.8 L905.4 1377.2" stroke="#808000"/>
<path d="M1731.3 1396.3 L1742.2 1395.2 L1763.9 1394.1 L1785.7 1393.0 L1807.4 1391.5 L1829.1 1389.8 L1850.9 1387.6 L1872.6 1384.8 L1894.3 1381.7 L1905.2 1380.0 L1908.5 1384.8" stroke="#808000"/>
<path d="M601.7 1347.4 L606.5 1351.7 L613.0 1351.1 L618.5 1352.8" stroke="#ffff80"/>
<path d="M669.1 1359.3 L669.6 1364.8 L684.8 1364.8 L706.5 1366.1 L728.3 1366.1 L745.7 1364.3 L757.6 1363.0" stroke="#ffff80"/>
<path d="M1583.7 1377.2 L1593.5 1381.1 L1608.7 1383.7 L1626.1 1384.3 L1647.8 1384.3 L1669.6 1383.9 L1691.3 1383.7 L1709.6 1382.6 L1742.2 1381.1 L1774.8 1378.9 L1807.4 1377.8 L1840.0 1377.2 L1857.4 1376.7" stroke="#ffff80"/>
<path d="M1083.7 1363.7 L1084.8 1369.1 L1095.7 1371.7 L1117.4 1373.0 L1139.1 1373.5 L1160.9 1373.5 L1182.6 1372.8 L1204.3 1370.9 L1226.1 1368.7 L1247.8 1365.9 L1269.6 1363.3 L1291.3 1361.5 L1315.2 1360.0 L1315.7 1360.0" stroke="#80ffff"/>
<path d="M1756.3 1358.3 L1757.0 1370.2 L1758.5 1364.8 L1763.9 1364.8 L1785.7 1365.2 L1807.4 1366.3 L1829.1 1367.0 L1850.9 1367.0 L1872.6 1367.0 L1894.3 1367.0 L1909.6 1366.5 L1924.8 1367.0" stroke="#80ffff"/>
</g>
<g font-family="Liberation Sans, Arial, sans-serif" font-size="82.7" fill="#262626">
<text transform="translate(269.2,1212.4) scale(1,1.01)" text-anchor="end">20</text>
<text transform="translate(269.2,1325.1) scale(1,1.01)" text-anchor="end">10</text>
<text transform="translate(269.2,1437.9) scale(1,1.01)" text-anchor="end">0</text>
<text transform="translate(269.2,1550.6) scale(1,1.01)" text-anchor="end"><tspan dy="2">-</tspan><tspan dy="-2">10</tspan></text>
<text transform="translate(269.2,1663.4) scale(1,1.01)" text-anchor="end"><tspan dy="2">-</tspan><tspan dy="-2">20</tspan></text>
<text transform="translate(269.2,1776.1) scale(1,1.01)" text-anchor="end"><tspan dy="2">-</tspan><tspan dy="-2">30</tspan></text>
<text transform="translate(296.0,1849.6) scale(1,1.01)" text-anchor="middle">0</text>
<text transform="translate(702.8,1849.6) scale(1,1.01)" text-anchor="middle">6</text>
<text transform="translate(1109.5,1849.6) scale(1,1.01)" text-anchor="middle">12</text>
<text transform="translate(1516.2,1849.6) scale(1,1.01)" text-anchor="middle">18</text>
<text transform="translate(1923.0,1849.6) scale(1,1.01)" text-anchor="middle">24</text>
</g>
<g font-family="Liberation Sans, Arial, sans-serif" font-weight="bold" font-size="91" text-anchor="middle">
<text transform="translate(1108.5,1148.2) scale(1,1.023)" fill="#000">DFPPP3</text>
<text transform="translate(1110,1960.4) scale(1,1.023)" fill="#262626">UTC [h]</text>
<text transform="translate(117,1468.6) rotate(-90) scale(1,1.023)" fill="#262626">SID [m]</text>
</g>
</svg></body></html>
